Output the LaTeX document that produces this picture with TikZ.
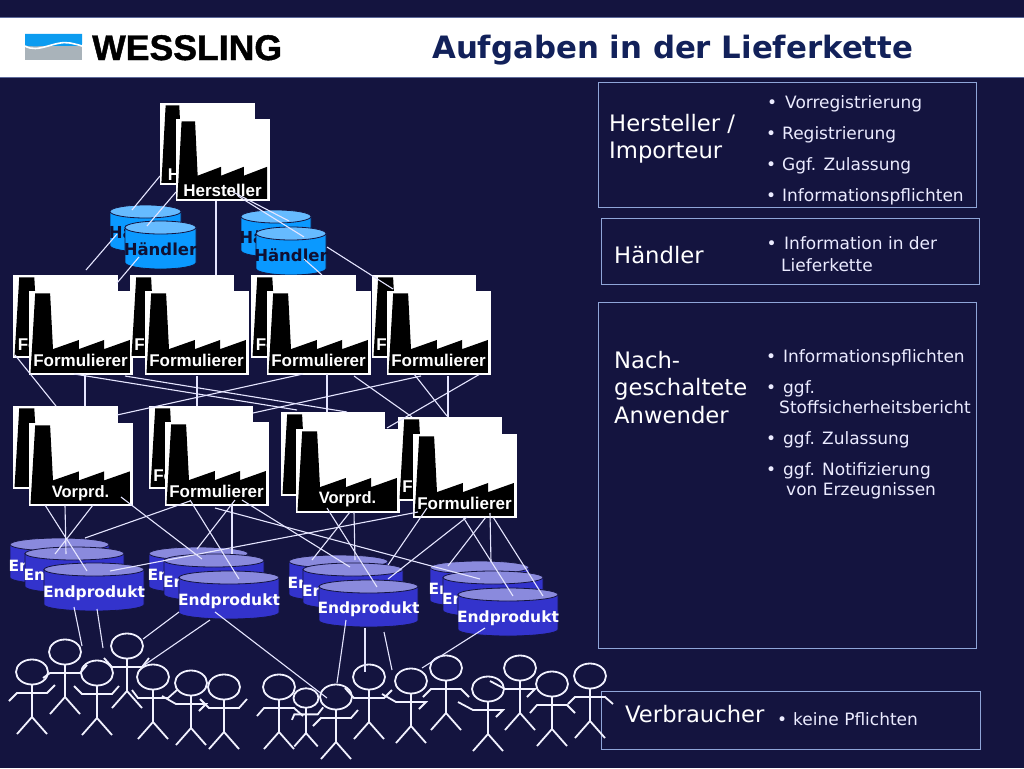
\documentclass[tikz,border=0pt]{standalone}
\usepackage{fontspec}
\setmainfont{DejaVu Sans}
\newfontfamily\arialfont{Liberation Sans}
\newfontfamily\logofont[FakeBold=1.2]{Liberation Sans Bold}
\usetikzlibrary{shapes.geometric}

\definecolor{nacht}{HTML}{14143F}
\definecolor{titel}{HTML}{12215A}
\definecolor{rand}{HTML}{8FA5D8}
\definecolor{himmel}{HTML}{0A99FF}
\definecolor{himmelhell}{HTML}{66BBFF}
\definecolor{indigo}{HTML}{3333CC}
\definecolor{indigohell}{HTML}{8A8ADD}
\definecolor{logoblau}{HTML}{0C9CF0}
\definecolor{logograu}{HTML}{A9B3BA}

\tikzset{
	fabrik/.style={draw=white, fill=white, line width=1pt, inner sep=0pt, anchor=north west},
	lieferung/.style={draw=white!90!blue, line width=1.1pt},
	strich/.style={draw=white!95!blue, line width=1.8pt},
	kopf/.style={ellipse, draw=white!95!blue, line width=1.8pt, inner sep=0pt, minimum width=32pt, minimum height=25pt},
	rahmen/.style={draw=rand, line width=1.2pt, inner sep=0pt, anchor=north west},
	haupt/.style={text=white, inner sep=0pt, anchor=base west, font=\fontsize{22.7}{22.7}\selectfont},
	eintrag/.style={text=white!92!blue, inner sep=0pt, anchor=base west, font=\fontsize{17}{17}\selectfont},
	herstlabel/.style={text=white, inner sep=0pt, anchor=base, font=\arialfont\bfseries\fontsize{17}{17}\selectfont},
	formlabel/.style={text=white, inner sep=0pt, anchor=base, font=\arialfont\bfseries\fontsize{17}{17}\selectfont},
	vorlabel/.style={text=white, inner sep=0pt, anchor=base, font=\arialfont\bfseries\fontsize{16.5}{16.5}\selectfont},
	haendlerfass/.style={draw=nacht, line width=0.8pt, fill=himmel},
	haendlerdeckel/.style={draw=nacht, line width=0.8pt, fill=himmelhell},
	haendlerlabel/.style={text=nacht!80!black, inner sep=0pt, anchor=base, font=\bfseries\fontsize{16.5}{16.5}\selectfont},
	endfass/.style={draw=nacht, line width=0.8pt, fill=indigo},
	enddeckel/.style={draw=nacht, line width=0.8pt, fill=indigohell},
	endlabel/.style={text=white, inner sep=0pt, anchor=base, font=\bfseries\fontsize{15.5}{15.5}\selectfont}
}

\newcommand{\bull}[1][6pt]{\llap{\textbullet\hspace{#1}}}

\newcommand{\factory}[8]{
	\node[fabrik, minimum width=#5pt, minimum height=#6pt] (#2) at (#3,#4) {};
	\begin{scope}[shift={(#3,#4)}, xscale=#5/100, yscale=#6/100]
		\fill[black] (6,3) -- (20.5,3) -- (23.3,70) -- (48.5,59) -- (48.5,70) -- (73,59) -- (73,70) -- (98,59) -- (98,98.5) -- (1.5,98.5) -- cycle;
	\end{scope}
	\node[#1] (#2l) at (#3+#5/2,#4+#8) {#7};
}

\newcommand{\tonne}[7]{
	\node[inner sep=0pt, anchor=north west, minimum width=#5pt, minimum height=#6pt] (#2) at (#3,#4) {};
	\path[#1fass] (#3,#4+6.5) -- (#3,#4+#6-6.5) arc[start angle=180, end angle=360, x radius=#5*0.5pt, y radius=6.5pt] -- (#3+#5,#4+6.5) -- cycle;
	\path[#1deckel] (#3+#5/2,#4+6.5) ellipse[x radius=#5*0.5pt, y radius=6.5pt];
	\node[#1label] (#2l) at (#3+#5/2,#4+#6/2+10) {#7};
}

\begin{document}
\begin{tikzpicture}[x=1pt, y=-1pt]
	\useasboundingbox (0,0) rectangle (1024,768);
	\fill[nacht] (0,0) rectangle (1024,768);

	\fill[white] (0,17) rectangle (1024,77);
	\draw[rand!60!nacht, line width=0.8pt] (0,17) -- (1024,17) (0,77) -- (1024,77);
	\fill[logoblau] (25,34) rectangle (82,48);
	\fill[logograu] (25,46) rectangle (82,60);
	\fill[logoblau] (25,44) .. controls (38,52) and (55,38) .. (70,41) .. controls (75,42) and (79,43) .. (82,44) -- (82,34) -- (25,34) -- cycle;
	\draw[white, line width=1.6pt] (25,46) .. controls (38,54) and (55,40) .. (70,43) .. controls (75,44) and (79,45) .. (82,46);
	\node[inner sep=0pt, anchor=base west, text=black, font=\logofont\fontsize{35.6}{35.6}\selectfont] (firma) at (92,60) {WESSLING};
	\node[inner sep=0pt, anchor=base west, text=titel, font=\bfseries\fontsize{30.8}{30.8}\selectfont] (titel) at (432,59) {Aufgaben in der Lieferkette};

	\factory{herstlabel}{h1}{160}{103}{94}{81}{Hersteller}{77}
	\factory{herstlabel}{h2}{176}{119}{93}{81}{Hersteller}{77}

	\tonne{haendler}{d1}{110}{205}{71}{47}{H\"andler}
	\tonne{haendler}{d2}{125}{221}{71}{48}{H\"andler}
	\tonne{haendler}{d3}{241}{210}{70}{47}{H\"andler}
	\tonne{haendler}{d4}{256}{227}{70}{48}{H\"andler}

	\factory{formlabel}{a1}{13}{275}{104}{82}{Formulierer}{75}
	\factory{formlabel}{a2}{29}{291}{103}{83}{Formulierer}{75}
	\factory{formlabel}{b1}{130}{275}{103}{82}{Formulierer}{75}
	\factory{formlabel}{b2}{145}{291}{103}{83}{Formulierer}{75}
	\factory{formlabel}{c1}{251}{275}{104}{82}{Formulierer}{75}
	\factory{formlabel}{c2}{267}{291}{103}{83}{Formulierer}{75}
	\factory{formlabel}{e1}{372}{275}{103}{82}{Formulierer}{75}
	\factory{formlabel}{e2}{387}{291}{103}{83}{Formulierer}{75}

	\factory{vorlabel}{v1}{13}{406}{104}{82}{Vorprd.}{74}
	\factory{vorlabel}{v2}{29}{423}{103}{82}{Vorprd.}{74}
	\factory{formlabel}{w1}{149}{406}{103}{82}{Formulierer}{75}
	\factory{formlabel}{w2}{165}{422}{103}{83}{Formulierer}{75}
	\factory{vorlabel}{x1}{281}{412}{103}{83}{Vorprd.}{74}
	\factory{vorlabel}{x2}{296}{429}{103}{83}{Vorprd.}{74}
	\factory{formlabel}{z1}{398}{417}{103}{83}{Formulierer}{75}
	\factory{formlabel}{z2}{413}{434}{103}{83}{Formulierer}{75}

	\tonne{end}{t11}{10}{538}{99}{46}{Endprodukt}
	\tonne{end}{t12}{25}{547}{99}{46}{Endprodukt}
	\tonne{end}{t13}{44}{563}{100}{48}{Endprodukt}
	\tonne{end}{t21}{149}{547}{99}{46}{Endprodukt}
	\tonne{end}{t22}{164}{554}{100}{47}{Endprodukt}
	\tonne{end}{t23}{179}{571}{100}{48}{Endprodukt}
	\tonne{end}{t31}{289}{555}{99}{46}{Endprodukt}
	\tonne{end}{t32}{303}{563}{100}{46}{Endprodukt}
	\tonne{end}{t33}{319}{580}{99}{47}{Endprodukt}
	\tonne{end}{t41}{430}{561}{99}{46}{Endprodukt}
	\tonne{end}{t42}{443}{571}{100}{46}{Endprodukt}
	\tonne{end}{t43}{458}{588}{100}{48}{Endprodukt}

	\node[rahmen, minimum width=378pt, minimum height=125pt] (box1) at (598,82) {};
	\node[rahmen, minimum width=378pt, minimum height=66pt] (box2) at (601,218) {};
	\node[rahmen, minimum width=378pt, minimum height=346pt] (box3) at (598,302) {};
	\node[rahmen, minimum width=379pt, minimum height=58pt] (box4) at (601,691) {};

	\foreach \n/\x/\y/\s/\lx/\ly/\rx/\ry in {
		1/32/672/1/-23/29/23/13, 2/65/652/1/-22/26/22/13, 3/97/673/1/-23/13/22/13,
		4/127/646/1/-23/12/22/12, 5/153/677/1/-21/13/24/13, 6/191/683/1/-29/13/8/28,
		7/224/687/1/-24/12/23/12, 8/279/687/1/-22/29/24/29, 9/306/698/0.78/-18/28/22/12,
		10/336/697/1/-23/29/22/13, 11/369/677/1/-24/11/23/13, 12/411/681/1/-29/13/8/28,
		13/446/668/1/-23/29/23/29, 14/488/689/1/-30/13/8/28, 15/520/668/1/-30/13/7/29,
		16/552/684/1/-22/29/23/29, 17/590/676/1/-22/28/23/28} {
		\begin{scope}[shift={(\x,\y)}, scale=\s]
			\node[kopf, transform shape] (m\n) at (0,0) {};
			\draw[strich] (m\n.south) -- (0,45);
			\draw[strich] (-15,62) -- (0,45) -- (15,62);
			\draw[strich] (\lx,\ly) -- (-15,21) -- (15,21) -- (\rx,\ry);
		\end{scope}
	}

	\foreach \a/\ax/\ay/\b/\bx/\by in {
		h1/0/73/d1/22/5, h2/0/73/d2/22/5, h2/40/82/b1/86/0, h2/57/73/d3/48/11,
		h2/62/77/d4/48/10, d1/7/29/a1/73/-5, d2/14/36/a1/104/8, d4/48/32/c1/71/0,
		d4/71/20/e1/21/14, a1/2/80/v1/43/0, a2/56/83/v1/72/0, a2/45/83/x1/16/-2,
		a2/96/85/x1/66/0, c2/36/83/v1/104/9, b2/52/85/w1/48/0, e2/34/85/w1/104/7,
		c2/60/83/x1/46/0, c2/87/85/z1/14/0, e2/27/83/z1/49/-1, e2/93/83/x1/106/16,
		e2/61/85/z1/50/0, v2/16/82/t13/43/8, v2/36/82/t12/41/7, v2/64/82/t11/45/16,
		v2/92/74/t22/38/5, w2/25/79/t12/60/-9, w2/25/78/t23/60/8, w2/70/78/t21/48/2,
		w2/67/83/t22/68/0, w2/50/86/t42/37/8, w2/77/78/t32/47/4, z2/5/78/t13/66/8,
		x2/54/83/t31/23/5, x2/58/83/t31/66/5, x2/31/79/t33/58/7, z2/14/74/t31/99/10,
		z2/54/83/t32/85/16, z2/73/83/t41/18/5, z2/77/79/t41/61/1, z2/50/83/t43/55/8,
		z2/80/83/t43/85/8} {
		\draw[lieferung] ([shift={(\ax,\ay)}]\a.north west) -- ([shift={(\bx,\by)}]\b.north west);
	}
	\foreach \a/\ax/\ay/\b/\bx/\by in {
		t13/30/44/m2/17/-6, t13/53/46/m4/-24/2, t23/0/41/m4/16/-7, t23/31/49/m5/-10/-11,
		t23/36/41/m10/-9/1, t33/27/40/m10/1/-14, t33/46/48/m11/-4/-5, t33/65/52/m12/-19/-11,
		t43/27/40/m13/-24/0} {
		\draw[lieferung] ([shift={(\ax,\ay)}]\a.north west) -- ([shift={(\bx,\by)}]\b.center);
	}

	\node[haupt] (t1) at (609,131) {Hersteller /};
	\node[haupt] (t2) at (609,158) {Importeur};
	\node[eintrag] (i1) at (785,108) {\bull[8pt]Vorregistrierung};
	\node[eintrag] (i2) at (782,139) {\bull Registrierung};
	\node[eintrag] (i3) at (782,170) {\bull Ggf. Zulassung};
	\node[eintrag] (i4) at (782,201) {\bull Informationspflichten};
	\node[haupt] (t3) at (614,263) {H\"andler};
	\node[eintrag] (i5) at (784,249) {\bull[7.5pt]Information in der};
	\node[eintrag] (i6) at (781,271) {Lieferkette};
	\node[haupt] (t4) at (614,368) {Nach-};
	\node[haupt] (t5) at (614,395) {geschaltete};
	\node[haupt] (t6) at (614,423) {Anwender};
	\node[eintrag] (i7) at (783,362) {\bull[7pt]Informationspflichten};
	\node[eintrag] (i8) at (783,393) {\bull[7pt]ggf.};
	\node[eintrag] (i9) at (779,413) {Stoffsicherheitsbericht};
	\node[eintrag] (i10) at (783,444) {\bull[7pt]ggf. Zulassung};
	\node[eintrag] (i11) at (783,475) {\bull[7pt]ggf. Notifizierung};
	\node[eintrag] (i12) at (786,495) {von Erzeugnissen};
	\node[haupt] (t7) at (625,722) {Verbraucher};
	\node[eintrag] (i13) at (793,725) {\bull keine Pflichten};
\end{tikzpicture}
\end{document}
